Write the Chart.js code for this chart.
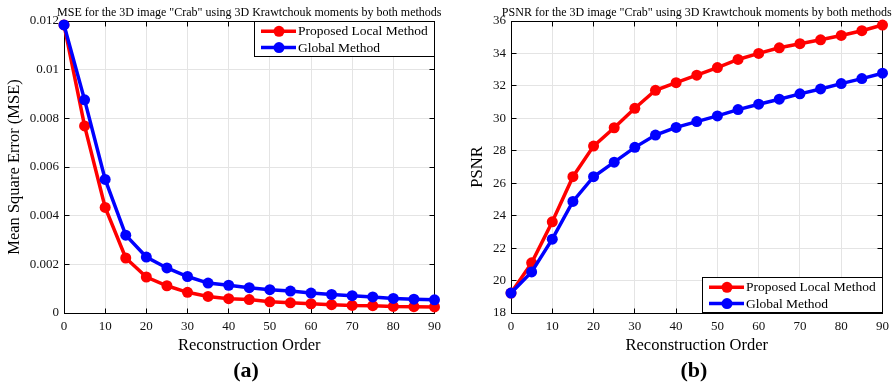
<!DOCTYPE html>
<html>
<head>
<meta charset="utf-8">
<script src="https://cdn.jsdelivr.net/npm/chart.js@4.4.0/dist/chart.umd.min.js"></script>
<style>
html,body{margin:0;padding:0;background:#fff;width:895px;height:386px;overflow:hidden;}
canvas{position:absolute;top:0;}
#c1{left:0px;}
#c2{left:447px;}
.lab{position:absolute;width:100px;text-align:center;font:bold 22px "Liberation Serif","Times New Roman",serif;line-height:26px;color:#000;}
</style>
</head>
<body>
<canvas id="c1" width="447" height="386"></canvas>
<canvas id="c2" width="448" height="386"></canvas>
<div class="lab" id="la" style="left:196px;top:357px;">(a)</div>
<div class="lab" id="lb" style="left:644px;top:357px;">(b)</div>
<script>
// ---------- data ----------
const orders = [0, 5, 10, 15, 20, 25, 30, 35, 40, 45, 50, 55, 60, 65, 70, 75, 80, 85, 90];
const seriesNames = ['Proposed Local Method', 'Global Method'];

const mseLocal  = [0.01184, 0.00769, 0.00434, 0.00226, 0.00148, 0.00112, 0.00085, 0.00068, 0.00059, 0.00055,
                   0.00046, 0.00042, 0.00038, 0.00034, 0.00031, 0.00030, 0.00027, 0.00026, 0.00025];
const mseGlobal = [0.01184, 0.00876, 0.00549, 0.00320, 0.00230, 0.00185, 0.00150, 0.00123, 0.00114, 0.00104,
                   0.00096, 0.00090, 0.00082, 0.00076, 0.00071, 0.00066, 0.00060, 0.00057, 0.00054];

const psnrLocal  = [19.23, 21.09, 23.62, 26.40, 28.29, 29.42, 30.62, 31.73, 32.20, 32.66,
                    33.13, 33.63, 34.00, 34.35, 34.60, 34.84, 35.11, 35.40, 35.75];
const psnrGlobal = [19.23, 20.53, 22.55, 24.88, 26.40, 27.30, 28.21, 28.97, 29.44, 29.80,
                    30.15, 30.54, 30.87, 31.18, 31.51, 31.81, 32.14, 32.45, 32.78];

const xTicks = [0, 10, 20, 30, 40, 50, 60, 70, 80, 90];
const xTickLabels = ['0', '10', '20', '30', '40', '50', '60', '70', '80', '90'];
const mseTicks = [0, 0.002, 0.004, 0.006, 0.008, 0.01, 0.012];
const mseTickLabels = ['0', '0.002', '0.004', '0.006', '0.008', '0.01', '0.012'];
const psnrTicks = [18, 20, 22, 24, 26, 28, 30, 32, 34, 36];
const psnrTickLabels = ['18', '20', '22', '24', '26', '28', '30', '32', '34', '36'];

const titleMSE = 'MSE for the 3D image "Crab" using 3D Krawtchouk moments by both methods';
const titlePSNR = 'PSNR for the 3D image "Crab" using 3D Krawtchouk moments by both methods';
const xTitle = 'Reconstruction Order';
const yTitleMSE = 'Mean Square Error (MSE)';
const yTitlePSNR = 'PSNR';

// ---------- styling ----------
const FONT = '"Liberation Serif", "Times New Roman", serif';
const RED = '#ff0000', BLUE = '#0000ff';

function align(p) { return Math.round(p - 0.5) + 0.5; }

const framePlugin = {
  id: 'frame',
  beforeDatasetsDraw(chart) {
    const {ctx, chartArea: a, scales} = chart;
    ctx.save();
    ctx.strokeStyle = '#000';
    ctx.lineWidth = 1;
    const L = align(a.left), R = align(a.right), T = align(a.top), B = align(a.bottom);
    ctx.strokeRect(L, T, R - L, B - T);
    ctx.beginPath();
    scales.x.ticks.forEach(t => {
      const px = align(scales.x.getPixelForValue(t.value));
      ctx.moveTo(px, B); ctx.lineTo(px, B - 5);
      ctx.moveTo(px, T); ctx.lineTo(px, T + 5);
    });
    scales.y.ticks.forEach(t => {
      const py = align(scales.y.getPixelForValue(t.value));
      ctx.moveTo(L, py); ctx.lineTo(L + 5, py);
      ctx.moveTo(R, py); ctx.lineTo(R - 5, py);
    });
    ctx.stroke();
    ctx.restore();
  },
  afterDatasetsDraw(chart, args, o) {
    const {ctx, chartArea: a} = chart;
    ctx.save();
    // title
    ctx.fillStyle = '#000';
    ctx.font = '12px ' + FONT;
    ctx.textAlign = 'center';
    ctx.textBaseline = 'alphabetic';
    ctx.fillText(o.title, (a.left + a.right) / 2, 15.5);
    // legend
    const w = 181, h = 36;
    const x0 = Math.round(a.right) - w;
    const y0 = o.corner === 'ne' ? Math.round(a.top) : Math.round(a.bottom) - h;
    ctx.fillStyle = '#fff';
    ctx.fillRect(x0, y0, w, h);
    ctx.strokeStyle = '#000';
    ctx.lineWidth = 1;
    ctx.strokeRect(x0 + 0.5, y0 + 0.5, w - 1, h - 1);
    chart.data.datasets.forEach((ds, i) => {
      const y = y0 + 10.3 + i * 16.3;
      ctx.strokeStyle = ds.borderColor;
      ctx.lineWidth = 3.5;
      ctx.beginPath(); ctx.moveTo(x0 + 7, y); ctx.lineTo(x0 + 42, y); ctx.stroke();
      ctx.fillStyle = ds.borderColor;
      ctx.beginPath(); ctx.arc(x0 + 25, y, 5.5, 0, Math.PI * 2); ctx.fill();
      ctx.fillStyle = '#000';
      ctx.font = '13.5px ' + FONT;
      ctx.textAlign = 'left';
      ctx.textBaseline = 'middle';
      ctx.fillText(ds.label, x0 + 44, y + 0.5);
    });
    ctx.restore();
  }
};

function makeChart(id, cfg) {
  const pts = arr => orders.map((o, i) => ({x: o, y: arr[i]}));
  const ds = (label, arr, color, order) => ({
    label, data: pts(arr), borderColor: color, backgroundColor: color,
    borderWidth: 3.5, pointRadius: 5.5, pointBackgroundColor: color, pointBorderColor: color,
    pointBorderWidth: 0, tension: 0, clip: false, order
  });
  return new Chart(document.getElementById(id), {
    type: 'line',
    data: {datasets: [ds(seriesNames[0], cfg.local, RED, 1), ds(seriesNames[1], cfg.global, BLUE, 0)]},
    options: {
      responsive: false, animation: false, devicePixelRatio: 1,
      layout: {padding: {left: 0, right: cfg.padRight, top: 21, bottom: 30}},
      plugins: {legend: {display: false}, tooltip: {enabled: false},
                frame: {title: cfg.title, corner: cfg.corner}},
      scales: {
        x: {
          type: 'linear', min: 0, max: 90,
          afterBuildTicks: s => { s.ticks = xTicks.map(v => ({value: v})); },
          afterFit: s => { s.height = 43; },
          ticks: {autoSkip: false, maxRotation: 0, padding: 6, color: '#111',
                  font: {family: FONT, size: 13},
                  callback: (v) => xTickLabels[xTicks.indexOf(v)]},
          grid: {color: '#e4e4e4', lineWidth: 1, drawTicks: false},
          border: {display: false},
          title: {display: true, text: xTitle, color: '#000', font: {family: FONT, size: 16.5},
                  padding: {top: 0, bottom: 0}}
        },
        y: {
          type: 'linear', min: cfg.yTicks[0], max: cfg.yTicks[cfg.yTicks.length - 1],
          afterBuildTicks: s => { s.ticks = cfg.yTicks.map(v => ({value: v})); },
          afterFit: s => { s.width = 64; },
          ticks: {autoSkip: false, padding: 5, color: '#111',
                  font: {family: FONT, size: 13},
                  callback: (v) => cfg.yLabels[cfg.yTicks.indexOf(v)]},
          grid: {color: '#e4e4e4', lineWidth: 1, drawTicks: false},
          border: {display: false},
          title: {display: true, text: cfg.yTitle, color: '#000', font: {family: FONT, size: 16.5},
                  padding: {top: cfg.yTitlePad, bottom: 0}}
        }
      }
    },
    plugins: [framePlugin]
  });
}

makeChart('c1', {local: mseLocal, global: mseGlobal, yTicks: mseTicks, yLabels: mseTickLabels,
                 title: titleMSE, yTitle: yTitleMSE, yTitlePad: 4.5, corner: 'ne', padRight: 11.5});
makeChart('c2', {local: psnrLocal, global: psnrGlobal, yTicks: psnrTicks, yLabels: psnrTickLabels,
                 title: titlePSNR, yTitle: yTitlePSNR, yTitlePad: 20.6, corner: 'se', padRight: 11});
</script>
</body>
</html>
